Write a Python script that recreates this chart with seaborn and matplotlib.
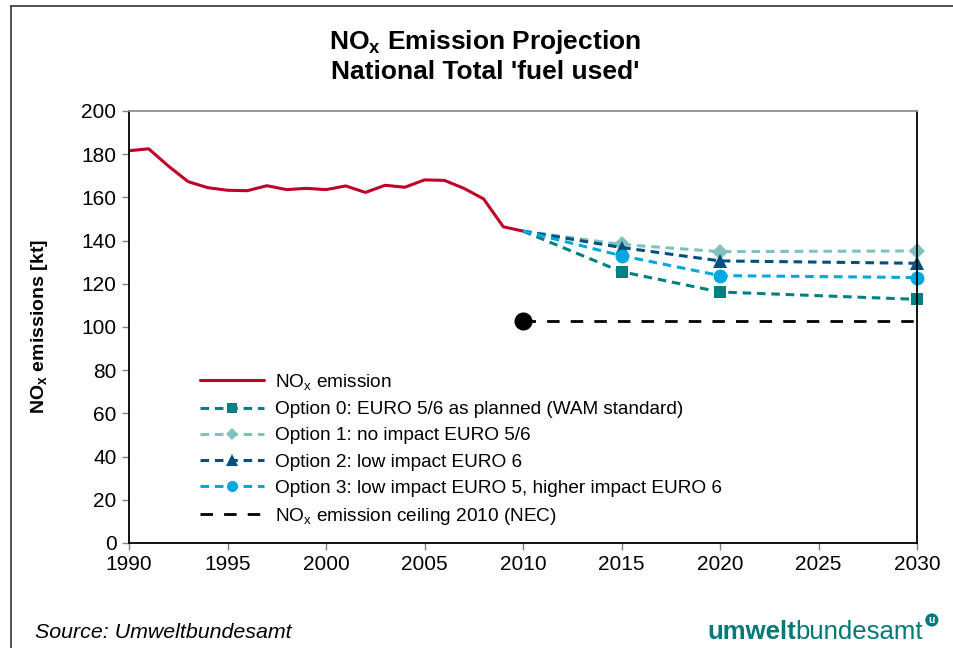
import numpy as np
import pandas as pd
import matplotlib
matplotlib.use("Agg")
import matplotlib.pyplot as plt
import seaborn as sns
from matplotlib.lines import Line2D

# ---------------- data ----------------
hist_years = list(range(1990, 2011))
hist_values = [181.6, 182.5, 174.5, 167.3, 164.5, 163.3, 163.1, 165.4, 163.6, 164.2,
               163.6, 165.3, 162.3, 165.6, 164.7, 168.1, 167.9, 164.2, 159.3, 146.4, 144.4]

proj_years = [2010, 2015, 2020, 2030]
opt0_values = [144.4, 125.6, 116.2, 112.8]
opt1_values = [144.4, 138.2, 134.9, 135.2]
opt2_values = [144.4, 136.8, 130.6, 129.5]
opt3_values = [144.4, 133.0, 123.8, 122.9]

ceiling_years = [2010, 2030]
ceiling_values = [103.0, 103.0]

labels = [
    r"NO$_\mathrm{x}$ emission",
    "Option 0: EURO 5/6 as planned (WAM standard)",
    "Option 1: no impact EURO 5/6",
    "Option 2: low impact EURO 6",
    "Option 3: low impact EURO 5, higher impact EURO 6",
    r"NO$_\mathrm{x}$ emission ceiling 2010 (NEC)",
]
x_ticks = [1990, 1995, 2000, 2005, 2010, 2015, 2020, 2025, 2030]
y_ticks = [0, 20, 40, 60, 80, 100, 120, 140, 160, 180, 200]

# ---------------- style ----------------
sns.set_theme(style="white")
plt.rcParams["font.family"] = ["Liberation Sans", "DejaVu Sans"]
plt.rcParams["mathtext.fontset"] = "custom"
plt.rcParams["mathtext.rm"] = "Liberation Sans"
plt.rcParams["mathtext.bf"] = "Liberation Sans:bold"
plt.rcParams["mathtext.it"] = "Liberation Sans:italic"
plt.rcParams["text.color"] = "black"
plt.rcParams["axes.labelcolor"] = "black"
plt.rcParams["xtick.color"] = "black"
plt.rcParams["ytick.color"] = "black"

c_red = "#C0002A"
c_opt0 = "#008080"
c_opt1 = "#80C0C0"
c_opt2 = "#005080"
c_opt3 = "#00A8E0"

fig = plt.figure(figsize=(9.54, 6.48), dpi=100)
W, H = 954, 648
ax = fig.add_axes([129 / W, 1 - 543 / H, (917 - 129) / W, (543 - 111) / H])

df_hist = pd.DataFrame({"year": hist_years, "value": hist_values})
sns.lineplot(data=df_hist, x="year", y="value", ax=ax, color=c_red, lw=2.2,
             label=labels[0])

series = [
    (opt0_values, c_opt0, "s", 9, labels[1]),
    (opt1_values, c_opt1, "D", 8, labels[2]),
    (opt2_values, c_opt2, "^", 10, labels[3]),
    (opt3_values, c_opt3, "o", 10, labels[4]),
]
for vals, col, mk, ms, lab in series:
    d = pd.DataFrame({"year": proj_years, "value": vals})
    mev = [False] + [True] * (len(vals) - 1)
    sns.lineplot(data=d, x="year", y="value", ax=ax, color=col, lw=2.2,
                 linestyle=(0, (2.8, 1.9)), marker=mk, markersize=ms,
                 markeredgewidth=0, markevery=mev, label=lab, clip_on=False)

d_ceil = pd.DataFrame({"year": ceiling_years, "value": ceiling_values})
sns.lineplot(data=d_ceil, x="year", y="value", ax=ax, color="black", lw=2,
             linestyle=(0, (4.5, 4)), label=labels[5])
ax.plot(ceiling_years[:1], ceiling_values[:1], marker="o", color="black",
        markersize=12, linestyle="none", zorder=5)

ax.set_xlim(1990, 2030)
ax.set_ylim(0, 200)
ax.set_xticks(x_ticks)
ax.set_yticks(y_ticks)
ax.tick_params(axis="both", which="both", direction="out", length=5, width=1,
               color="#808080", labelsize=15, labelcolor="black", pad=4,
               bottom=True, left=True)
ax.set_xlabel("")
ax.set_ylabel(r"NO$_\mathbf{x}$ emissions [kt]", fontsize=14, fontweight="bold")
ax.yaxis.set_label_coords(-0.100, 0.5)

for s in ["left", "bottom", "right"]:
    ax.spines[s].set_color("black")
    ax.spines[s].set_linewidth(1.3)
    ax.spines[s].set_visible(True)
ax.spines["top"].set_color("#909090")
ax.spines["top"].set_linewidth(1.3)

handles, _ = ax.get_legend_handles_labels()
leg = ax.legend(handles=handles, labels=labels, loc="lower left",
                bbox_to_anchor=(0.080, 0.0195), frameon=False, fontsize=13.7,
                handlelength=3.4, handletextpad=0.55, labelspacing=0.47,
                markerscale=0.8, borderaxespad=0)

fig.text(485 / W, 1 - 42 / H, r"NO$_\mathbf{x}$ Emission Projection", ha="center",
         va="center", fontsize=19, fontweight="bold")
fig.text(485 / W, 1 - 72 / H, "National Total 'fuel used'", ha="center",
         va="center", fontsize=19, fontweight="bold")

fig.text(35 / W, 1 - 632 / H, "Source: Umweltbundesamt", ha="left", va="center",
         fontsize=15.4, fontstyle="italic")

t1 = fig.text(707 / W, 1 - 632 / H, "umwelt", ha="left", va="center",
              fontsize=18.5, fontweight="bold", color="#007A78")
fig.canvas.draw()
bb = t1.get_window_extent()
t2 = fig.text(bb.x1 / W, 1 - 632 / H, "bundesamt", ha="left", va="center",
              fontsize=18.5, color="#007A78")
fig.canvas.draw()
bb2 = t2.get_window_extent()
fig.text(bb2.x1 / W + 0.009, 1 - 620 / H, "u", ha="center", va="center",
         fontsize=7.5, fontweight="bold", color="white",
         bbox=dict(boxstyle="circle,pad=0.15", fc="#007A78", ec="none"))

# outer frame (left and top edges)
fig.add_artist(Line2D([11 / W, 11 / W], [0, 1 - 6 / H], color="#333333", lw=1.2,
                      transform=fig.transFigure))
fig.add_artist(Line2D([11 / W, 1.0], [1 - 6 / H, 1 - 6 / H], color="#333333", lw=1.2,
                      transform=fig.transFigure))

fig.savefig("out.png", dpi=100)
